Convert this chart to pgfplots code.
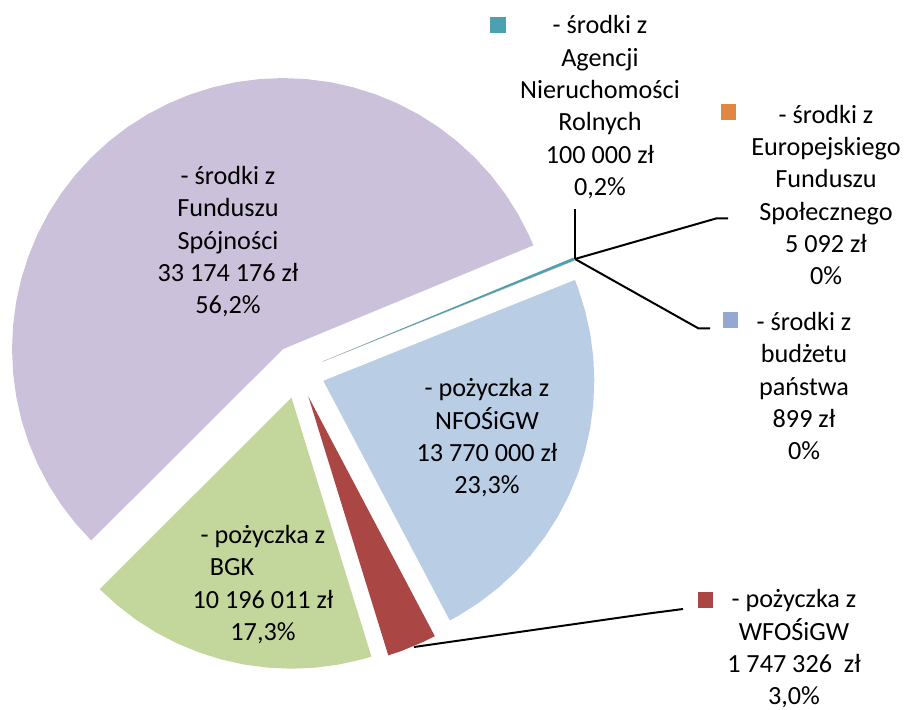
\documentclass[border=0pt]{standalone}
\usepackage{pgfplots}
\pgfplotsset{compat=1.18}
\usepackage{fontspec}
\setmainfont{Carlito}
\definecolor{cFS}{RGB}{204,193,218}
\definecolor{cNF}{RGB}{185,205,229}
\definecolor{cBGK}{RGB}{195,214,155}
\definecolor{cWF}{RGB}{170,70,67}
\definecolor{cAG}{RGB}{75,160,178}
\definecolor{cEU}{RGB}{225,135,65}
\definecolor{cBU}{RGB}{149,168,210}
\newcommand{\lbl}{\fontsize{13.1}{16.15}\selectfont}
\begin{document}
\begin{tikzpicture}
\begin{axis}[
  scale only axis, width=452pt, height=354.5pt,
  xmin=-298, xmax=606, ymin=-337.5, ymax=371.5,
  hide axis, clip=false,
]
\addplot[draw=none, fill=none] coordinates {(-298,-337.5) (606,371.5)};
% - srodki z Funduszu Spojnosci (56,2%)
\addplot[draw=none, fill=cFS, data cs=polar, shift={(axis direction cs:-14.98,22.46)}] coordinates {
(0,0) (22.5,271) (25,271) (30,271) (35,271) (40,271) (45,271) (50,271) (55,271) (60,271)
(65,271) (70,271) (75,271) (80,271) (85,271) (90,271) (95,271) (100,271) (105,271) (110,271)
(115,271) (120,271) (125,271) (130,271) (135,271) (140,271) (145,271) (150,271) (155,271)
(160,271) (165,271) (170,271) (175,271) (180,271) (185,271) (190,271) (195,271) (200,271)
(205,271) (210,271) (215,271) (220,271) (224.94,271)};
% Agencja (0,2%)
\addplot[draw=none, fill=cAG, data cs=polar, shift={(axis direction cs:25.0,10.2)}] coordinates {
(0,0) (21.89,271) (22.5,271)};
% EFS (0%)
\addplot[draw=none, fill=cEU, data cs=polar, shift={(axis direction cs:25.06,10.05)}] coordinates {
(0,0) (21.86,271) (21.89,271)};
% budzet (0%)
\addplot[draw=none, fill=cBU, data cs=polar, shift={(axis direction cs:25.06,10.05)}] coordinates {
(0,0) (21.85,271) (21.86,271)};
% NFOSiGW (23,3%)
\addplot[draw=none, fill=cNF, data cs=polar, shift={(axis direction cs:25.34,-9.31)}] coordinates {
(0,0) (21.85,271) (20,271) (15,271) (10,271) (5,271) (0,271) (-5,271) (-10,271) (-15,271)
(-20,271) (-25,271) (-30,271) (-35,271) (-40,271) (-45,271) (-50,271) (-55,271) (-60,271) (-62.18,271)};
% WFOSiGW (3,0%)
\addplot[draw=none, fill=cWF, data cs=polar, shift={(axis direction cs:10.33,-24.95)}] coordinates {
(0,0) (-62.18,271) (-65,271) (-70,271) (-72.84,271)};
% BGK (17,3%)
\addplot[draw=none, fill=cBGK, data cs=polar, shift={(axis direction cs:-6.51,-26.20)}] coordinates {
(0,0) (-72.84,271) (-75,271) (-80,271) (-85,271) (-90,271) (-95,271) (-100,271) (-105,271)
(-110,271) (-115,271) (-120,271) (-125,271) (-130,271) (-135,271) (-135.06,271)};
% leader lines
\addplot[black, line width=1pt] coordinates {(277,112.5) (277,162.5)};
\addplot[black, line width=1pt] coordinates {(277,112.5) (418.7,153.2) (430,153.2)};
\addplot[black, line width=1pt] coordinates {(277,112.5) (400.3,43.2) (412,43.2)};
\addplot[black, line width=1pt] coordinates {(116,-275.5) (352,-241.8) (385,-237.5)};
% legend keys
\addplot[only marks, mark=square*, mark size=3.6pt, color=cAG] coordinates {(200,346.5)};
\addplot[only marks, mark=square*, mark size=3.6pt, color=cEU] coordinates {(430.5,259.5)};
\addplot[only marks, mark=square*, mark size=3.6pt, color=cBU] coordinates {(432.5,51.5)};
\addplot[only marks, mark=square*, mark size=3.6pt, color=cWF] coordinates {(407.5,-228.5)};
% labels
\node[align=center, font=\lbl, inner sep=0pt] at (axis cs:-70,129.8) {- środki z\\Funduszu\\Spójności\\33 174 176 zł\\56,2\%};
\node[align=center, font=\lbl, inner sep=0pt] at (axis cs:302,264.2) {- środki z\\Agencji\\Nieruchomości\\Rolnych\\100 000 zł\\0,2\%};
\node[align=center, font=\lbl, inner sep=0pt] at (axis cs:528,176.5) {- środki z\\Europejskiego\\Funduszu\\Społecznego\\5 092 zł\\0\%};
\node[align=center, font=\lbl, inner sep=0pt] at (axis cs:506,-14.8) {- środki z\\budżetu\\państwa\\899 zł\\0\%};
\node[align=center, font=\lbl, inner sep=0pt] at (axis cs:189,-66.5) {- pożyczka z\\NFOŚiGW\\13 770 000 zł\\23,3\%};
\node[align=center, font=\lbl, inner sep=0pt] at (axis cs:-35,-213.2) {- pożyczka z\\BGK\rule{31pt}{0pt}\\10 196 011 zł\\17,3\%};
\node[align=center, font=\lbl, inner sep=0pt] at (axis cs:496,-277.5) {- pożyczka z\\WFOŚiGW\\1 747 326~ zł\\3,0\%};
\end{axis}
\end{tikzpicture}
\end{document}
